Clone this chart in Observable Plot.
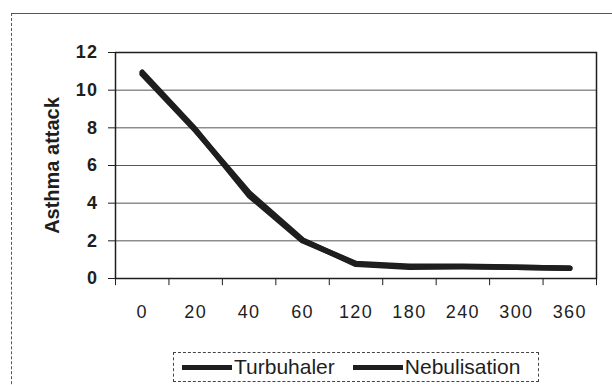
<!DOCTYPE html>
<html>
<head>
<meta charset="utf-8">
<script src="https://cdn.jsdelivr.net/npm/d3@7"></script>
<script src="https://cdn.jsdelivr.net/npm/@observablehq/plot@0.6"></script>
<style>
  html, body { margin: 0; padding: 0; background: #fff; }
  body { font-family: "Liberation Sans", Arial, sans-serif; color: #1e1e1e; }
  #wrap { position: relative; width: 612px; height: 385px; overflow: hidden; background: #fff; }
  #frame { position: absolute; left: 11px; top: 13px; width: 640px; height: 400px;
           border-top: 1px solid #555; border-left: 1px dashed #555; }
  #chart { position: absolute; left: 0; top: 0; }
  #legend { position: absolute; left: 173px; top: 352px; width: 366px; height: 30px;
            border: 1px dashed #444; box-sizing: border-box; display: flex; align-items: center;
            font-size: 21px; color: #1e1e1e; }
  .sw { display: inline-block; width: 50px; height: 5px; background: #1e1e1e; }
  .item { display: flex; align-items: center; }
  .item span.t { margin-left: 2px; }
</style>
</head>
<body>
<div id="wrap">
  <div id="frame"></div>
  <div id="chart"></div>
  <div id="legend"></div>
</div>
<script>
// ---- data ----
const timeLabels = ["0", "20", "40", "60", "120", "180", "240", "300", "360"];
const turbuhaler = [10.95, 7.9, 4.4, 2.0, 0.8, 0.65, 0.65, 0.6, 0.55];
const nebulisation = [10.85, 7.85, 4.55, 2.05, 0.75, 0.6, 0.62, 0.6, 0.55];
const seriesNames = ["Turbuhaler", "Nebulisation"];
const yTicks = [0, 2, 4, 6, 8, 10, 12];
const yTitle = "Asthma attack";

// ---- build table ----
const seriesValues = [turbuhaler, nebulisation];
const rows = [];
seriesNames.forEach((name, s) => {
  seriesValues[s].forEach((v, i) => rows.push({series: name, i, v}));
});
const idx = timeLabels.map((_, i) => i);
const bounds = d3.range(timeLabels.length + 1).map(i => i - 0.5);

const plot = Plot.plot({
  width: 612,
  height: 345,
  marginLeft: 115,
  marginRight: 16,
  marginTop: 52,
  marginBottom: 67,
  style: {fontFamily: "Liberation Sans, Arial, sans-serif", background: "transparent", color: "#1e1e1e"},
  x: {type: "linear", domain: [-0.5, timeLabels.length - 0.5]},
  y: {domain: [0, 12]},
  marks: [
    Plot.gridY(yTicks.slice(1, -1), {stroke: "#555", strokeOpacity: 1, strokeWidth: 1}),
    Plot.frame({stroke: "#1e1e1e", strokeWidth: 1.5}),
    Plot.axisY({ticks: yTicks, tickSize: 7, tickPadding: 10, fontSize: 18, fontWeight: "bold", label: null, stroke: "#1e1e1e"}),
    Plot.text([yTitle], {frameAnchor: "left", textAnchor: "middle", rotate: -90, dx: -63, fontSize: 20, fontWeight: "bold", fill: "#1e1e1e"}),
    Plot.axisX({ticks: idx, tickFormat: i => timeLabels[i], tickSize: 0, tickPadding: 27, fontSize: 18, label: null}),
    Plot.ruleX(bounds, {x: d => d, y1: 0, y2: -0.38, stroke: "#1e1e1e", strokeWidth: 1}),
    Plot.line(rows, {x: "i", y: "v", z: "series", stroke: "#1e1e1e", strokeWidth: 5.5,
                     strokeLinecap: "round", strokeLinejoin: "round"})
  ]
});
plot.querySelectorAll('[aria-label="x-axis tick label"] text, [aria-label="y-axis tick label"] text')
  .forEach(t => t.setAttribute("letter-spacing", "1.4"));
document.getElementById("chart").appendChild(plot);

// ---- legend ----
const legend = document.getElementById("legend");
seriesNames.forEach((name, s) => {
  const item = document.createElement("div");
  item.className = "item";
  item.style.marginLeft = s === 0 ? "8px" : "18px";
  const sw = document.createElement("span");
  sw.className = "sw";
  const t = document.createElement("span");
  t.className = "t";
  t.textContent = name;
  item.appendChild(sw);
  item.appendChild(t);
  legend.appendChild(item);
});
</script>
</body>
</html>
